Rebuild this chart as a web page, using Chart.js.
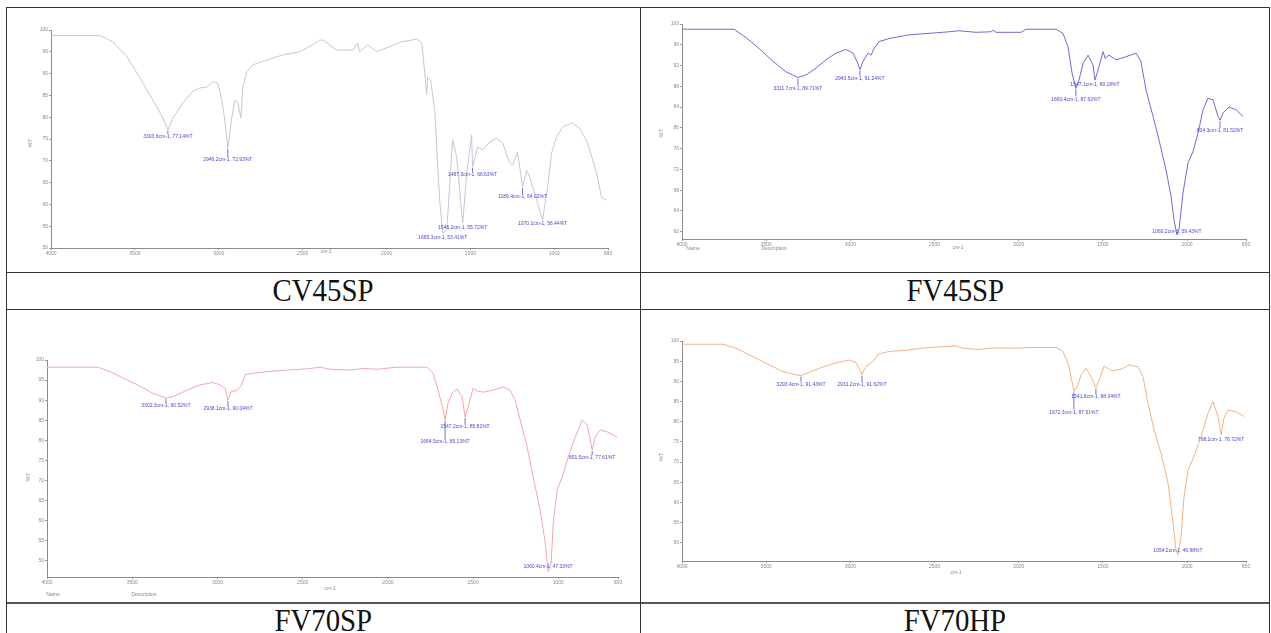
<!DOCTYPE html>
<html>
<head>
<meta charset="utf-8">
<script src="https://cdn.jsdelivr.net/npm/chart.js@4.4.1/dist/chart.umd.min.js"></script>
<style>
  body { margin: 0; background: #fff; width: 1271px; height: 633px; overflow: hidden; position: relative; font-family: "Liberation Sans", Arial, sans-serif; }
  .ln { position: absolute; background: #333; }
  canvas { position: absolute; }
  .cap { position: absolute; height: 37px; line-height: 37px; text-align: center; font-family: "Liberation Serif", "Times New Roman", serif; font-size: 32px; color: #111; }
  .cap span { display: inline-block; transform: scaleX(0.9); }
  .tiny { position: absolute; font-size: 5px; color: #888; white-space: nowrap; transform: translate(-50%, -50%); }
  .rot { transform: translate(-50%, -50%) rotate(-90deg); font-size: 6px; }
</style>
</head>
<body>
<!-- table frame -->
<div class="ln" style="left:6px;top:7px;width:1264px;height:1px"></div>
<div class="ln" style="left:6px;top:272px;width:1264px;height:1px"></div>
<div class="ln" style="left:6px;top:309px;width:1264px;height:1px"></div>
<div class="ln" style="left:6px;top:602px;width:1264px;height:2px;background:#555"></div>
<div class="ln" style="left:6px;top:7px;width:1px;height:626px"></div>
<div class="ln" style="left:640px;top:7px;width:1px;height:626px"></div>
<div class="ln" style="left:1269px;top:7px;width:1px;height:626px"></div>

<canvas id="cv45sp"></canvas>
<canvas id="fv45sp"></canvas>
<canvas id="fv70sp"></canvas>
<canvas id="fv70hp"></canvas>

<div class="cap" style="left:7px;top:272px;width:633px"><span>CV45SP</span></div>
<div class="cap" style="left:641px;top:272px;width:628px"><span>FV45SP</span></div>
<div class="cap" style="left:7px;top:602px;width:633px"><span>FV70SP</span></div>
<div class="cap" style="left:641px;top:602px;width:628px"><span>FV70HP</span></div>

<!-- axis titles and footer text -->
<div class="tiny rot" style="left:30px;top:143px">%T</div>
<div class="tiny rot" style="left:661px;top:133px">%T</div>
<div class="tiny rot" style="left:28px;top:477px">%T</div>
<div class="tiny rot" style="left:661px;top:457px">%T</div>
<div class="tiny" style="left:326px;top:251px">cm-1</div>
<div class="tiny" style="left:958px;top:247px">cm-1</div>
<div class="tiny" style="left:330px;top:588px">cm-1</div>
<div class="tiny" style="left:956px;top:572px">cm-1</div>
<div class="tiny" style="left:693px;top:248px">Name</div>
<div class="tiny" style="left:774px;top:248px">Description</div>
<div class="tiny" style="left:53px;top:594px">Name</div>
<div class="tiny" style="left:144px;top:594px">Description</div>

<script>
// ---- CV45SP ----
const cv45spWave = [4000, 3708, 3631, 3547, 3470, 3392, 3333, 3303, 3273, 3214, 3154, 3113, 3071, 3035, 3005, 2982, 2964, 2946, 2922, 2904, 2886, 2868, 2856, 2833, 2797, 2714, 2618, 2517, 2440, 2398, 2380, 2297, 2201, 2172, 2160, 2112, 2058, 1999, 1921, 1820, 1790, 1772, 1761, 1755, 1737, 1713, 1695, 1683, 1665, 1641, 1606, 1582, 1546, 1522, 1493, 1487, 1457, 1427, 1385, 1344, 1308, 1266, 1248, 1219, 1189, 1165, 1147, 1105, 1070, 1040, 1016, 986, 951, 897, 849, 802, 748, 718, 689];
const cv45spT = [98.7, 98.7, 97.3, 93.9, 89.0, 83.9, 79.8, 77.1, 79.8, 83.3, 86.0, 86.7, 86.9, 88.1, 87.8, 83.9, 79.4, 72.9, 80.0, 83.9, 83.3, 79.8, 86.9, 90.4, 92.0, 93.1, 94.3, 95.0, 96.6, 97.7, 97.7, 95.4, 95.4, 97.0, 95.0, 96.6, 95.0, 95.9, 97.2, 97.9, 97.0, 90.1, 85.1, 89.2, 88.5, 81.6, 68.6, 61.0, 53.4, 54.1, 74.8, 70.9, 55.7, 67.2, 75.9, 68.6, 73.2, 72.5, 74.3, 75.2, 74.1, 69.5, 69.0, 72.0, 64.0, 67.9, 66.3, 61.0, 56.4, 64.0, 71.8, 75.5, 77.7, 78.7, 77.5, 74.1, 67.2, 61.5, 61.0];
const cv45spPeakWave = [3303.6, 2946.2, 1665.3, 1546.2, 1487.3, 1189.4, 1070.1];
const cv45spPeakT = [77.14, 72.93, 53.41, 55.72, 68.63, 64.02, 56.44];

// ---- FV45SP ----
const fv45spWave = [4000, 3691, 3620, 3543, 3459, 3382, 3311, 3263, 3204, 3145, 3085, 3026, 2984, 2955, 2943, 2925, 2895, 2877, 2859, 2830, 2770, 2652, 2533, 2414, 2355, 2254, 2165, 2153, 2135, 1986, 1957, 1778, 1737, 1707, 1683, 1660, 1642, 1618, 1588, 1559, 1547, 1523, 1499, 1487, 1464, 1422, 1363, 1303, 1274, 1244, 1202, 1167, 1125, 1095, 1078, 1060, 1048, 1024, 994, 965, 935, 905, 876, 846, 816, 804, 786, 751, 709, 668];
const fv45spT = [99.0, 99.0, 97.4, 95.3, 92.8, 90.8, 89.7, 90.2, 91.5, 93.1, 94.4, 95.1, 94.4, 92.4, 91.2, 92.8, 94.4, 94.0, 95.3, 96.6, 97.2, 97.9, 98.2, 98.5, 98.7, 98.4, 98.5, 98.8, 98.4, 98.4, 99.0, 99.0, 98.2, 95.6, 90.5, 87.6, 89.2, 92.4, 94.0, 92.1, 89.2, 91.8, 94.7, 93.4, 94.0, 93.1, 93.7, 94.4, 92.8, 87.3, 82.2, 77.7, 71.9, 66.8, 62.3, 59.4, 60.4, 67.5, 73.3, 75.4, 79.0, 83.5, 85.7, 85.4, 82.2, 81.5, 82.9, 84.0, 83.5, 82.2];
const fv45spPeakWave = [3311.7, 2943.5, 1660.4, 1547.1, 1060.2, 804.3];
const fv45spPeakT = [89.71, 91.24, 87.62, 89.18, 59.43, 81.52];

// ---- FV70SP ----
const fv70spWave = [4000, 3701, 3630, 3530, 3454, 3378, 3302, 3261, 3178, 3102, 3026, 2985, 2955, 2938, 2920, 2885, 2861, 2838, 2791, 2709, 2591, 2474, 2398, 2339, 2222, 2145, 2063, 1946, 1770, 1735, 1705, 1676, 1664, 1647, 1623, 1594, 1564, 1547, 1529, 1500, 1476, 1441, 1382, 1324, 1283, 1253, 1224, 1183, 1148, 1107, 1077, 1060, 1042, 1030, 1007, 977, 942, 901, 860, 831, 801, 784, 754, 713, 655];
const fv70spT = [98.2, 98.2, 97.1, 95.0, 93.5, 91.7, 90.5, 90.9, 92.5, 93.8, 94.4, 93.8, 93.0, 90.0, 92.1, 92.5, 93.5, 96.3, 96.7, 97.1, 97.5, 97.8, 98.2, 97.7, 97.5, 97.9, 97.7, 98.2, 98.2, 96.7, 92.5, 87.6, 85.1, 89.3, 91.8, 92.8, 90.8, 85.8, 88.3, 93.0, 92.3, 92.0, 92.5, 93.3, 92.5, 90.0, 85.1, 78.4, 70.9, 62.7, 54.5, 47.3, 49.5, 59.4, 67.7, 70.9, 75.9, 80.8, 85.1, 83.8, 77.6, 80.8, 82.6, 82.1, 80.8];
const fv70spPeakWave = [3302.3, 2938.1, 1664.5, 1547.2, 1060.4, 801.5];
const fv70spPeakT = [90.52, 90.04, 85.13, 85.81, 47.33, 77.61];

// ---- FV70HP ----
const fv70hpWave = [4000, 3756, 3679, 3578, 3483, 3400, 3341, 3293, 3246, 3162, 3085, 3008, 2966, 2943, 2931, 2919, 2895, 2877, 2860, 2830, 2770, 2652, 2533, 2372, 2331, 2236, 2153, 2034, 1915, 1778, 1737, 1707, 1683, 1672, 1648, 1630, 1600, 1571, 1541, 1523, 1493, 1470, 1440, 1392, 1345, 1291, 1262, 1232, 1196, 1155, 1113, 1083, 1066, 1054, 1036, 1018, 994, 959, 917, 876, 846, 816, 798, 781, 757, 709, 662];
const fv70hpT = [99.2, 99.2, 98.2, 96.1, 94.1, 92.4, 91.8, 91.4, 92.2, 93.6, 94.6, 95.3, 94.6, 92.8, 91.6, 92.8, 94.1, 94.5, 95.3, 96.8, 97.4, 97.8, 98.4, 98.8, 98.2, 97.9, 98.3, 98.2, 98.4, 98.4, 97.4, 94.5, 89.9, 87.5, 89.1, 91.6, 93.2, 91.2, 88.3, 90.3, 93.8, 93.2, 92.6, 93.0, 94.1, 93.6, 91.2, 84.6, 78.0, 72.2, 64.8, 54.9, 48.3, 47.0, 51.6, 61.5, 68.1, 71.4, 76.3, 82.1, 85.0, 81.3, 76.7, 80.9, 82.9, 82.5, 81.3];
const fv70hpPeakWave = [3293.4, 2931.2, 1672.3, 1541.6, 1054.2, 798.1];
const fv70hpPeakT = [91.43, 91.62, 87.51, 88.34, 46.98, 76.72];

// tick labels
const xTicksCv = [4000, 3500, 3000, 2500, 2000, 1500, 1000, 680];
const xTicksFv = [4000, 3500, 3000, 2500, 2000, 1500, 1000, 650];
const yTicksFv45 = [60, 64, 68, 72, 76, 80, 84, 88, 92, 96, 100];
const yTicks5 = [50, 55, 60, 65, 70, 75, 80, 85, 90, 95, 100];

// peak markers: line from the curve down to the label
const peakPlugin = {
    id: 'peaks',
    afterDatasetsDraw(chart, args, opts) {
        const ctx = chart.ctx;
        const x = chart.scales.x, y = chart.scales.y;
        ctx.save();
        ctx.font = '5px "Liberation Sans", Arial, sans-serif';
        ctx.fillStyle = '#4848d0';
        ctx.strokeStyle = '#4848d0';
        ctx.lineWidth = 0.8;
        ctx.textAlign = 'center';
        ctx.textBaseline = 'middle';
        opts.waves.forEach((w, i) => {
            const t = opts.ts[i];
            const px = x.getPixelForValue(w);
            const py = y.getPixelForValue(t);
            const ly = py + opts.offsets[i];
            if (opts.offsets[i] > 5) {
                ctx.beginPath();
                ctx.moveTo(px, py + 1);
                ctx.lineTo(px, ly - 3);
                ctx.stroke();
            }
            ctx.fillText(w.toFixed(1) + 'cm-1, ' + t.toFixed(2) + '%T', px, ly);
        });
        ctx.restore();
    }
};

function makePanel(id, cell, area, cfg) {
    const cv = document.getElementById(id);
    cv.width = cell.w; cv.height = cell.h;
    cv.style.left = cell.x + 'px'; cv.style.top = cell.y + 'px';
    cv.style.width = cell.w + 'px'; cv.style.height = cell.h + 'px';
    const yW = 14, xH = 10;
    const points = cfg.wave.map((w, i) => ({ x: w, y: cfg.t[i] }));
    const tickFont = { size: 5, family: '"Liberation Sans", Arial, sans-serif' };
    new Chart(cv.getContext('2d'), {
        type: 'line',
        data: { datasets: [{ data: points, borderColor: cfg.color, borderWidth: 1, pointRadius: 0, tension: 0, fill: false }] },
        options: {
            responsive: false,
            animation: false,
            events: [],
            layout: {
                padding: {
                    left: area.l - cell.x - yW,
                    top: area.t - cell.y,
                    right: cell.x + cell.w - area.r,
                    bottom: cell.y + cell.h - area.b - xH
                }
            },
            plugins: {
                legend: { display: false },
                tooltip: { enabled: false },
                peaks: { waves: cfg.peakWave, ts: cfg.peakT, offsets: cfg.offsets }
            },
            scales: {
                x: {
                    type: 'linear', reverse: true, min: cfg.xTicks[cfg.xTicks.length - 1], max: 4000,
                    afterBuildTicks: s => { s.ticks = cfg.xTicks.map(v => ({ value: v })); },
                    afterFit: s => { s.height = xH; },
                    ticks: { font: tickFont, color: '#8a8a8a', padding: 1, autoSkip: false, maxRotation: 0, callback: v => String(v) },
                    grid: { drawOnChartArea: false, tickLength: 2, color: '#999' },
                    border: { color: '#8c8c8c', width: 1 }
                },
                y: {
                    min: cfg.yMin, max: 100,
                    afterBuildTicks: s => { s.ticks = cfg.yTicks.map(v => ({ value: v })); },
                    afterFit: s => { s.width = yW; },
                    ticks: { font: tickFont, color: '#8a8a8a', padding: 1, callback: v => String(v) },
                    grid: { drawOnChartArea: false, tickLength: 2, color: '#999' },
                    border: { color: '#8c8c8c', width: 1 }
                }
            }
        },
        plugins: [peakPlugin]
    });
}

makePanel('cv45sp', { x: 7, y: 8, w: 633, h: 264 }, { l: 51, t: 30, r: 608, b: 248 }, {
    wave: cv45spWave, t: cv45spT, color: '#c6c6d8',
    peakWave: cv45spPeakWave, peakT: cv45spPeakT, offsets: [7, 12, 4, 5, 8, 10, 4],
    xTicks: xTicksCv, yTicks: yTicks5, yMin: 50
});
makePanel('fv45sp', { x: 641, y: 8, w: 628, h: 264 }, { l: 682, t: 24, r: 1246, b: 239 }, {
    wave: fv45spWave, t: fv45spT, color: '#6c6cd4',
    peakWave: fv45spPeakWave, peakT: fv45spPeakT, offsets: [11, 9, 11, 4, -3, 11],
    xTicks: xTicksFv, yTicks: yTicksFv45, yMin: 58.6
});
makePanel('fv70sp', { x: 7, y: 310, w: 633, h: 292 }, { l: 47, t: 360, r: 618, b: 577 }, {
    wave: fv70spWave, t: fv70spT, color: '#f2a8a8',
    peakWave: fv70spPeakWave, peakT: fv70spPeakT, offsets: [8, 9, 22, 10, -5, 8],
    xTicks: xTicksFv, yTicks: yTicks5, yMin: 46
});
makePanel('fv70hp', { x: 641, y: 310, w: 628, h: 292 }, { l: 682, t: 341, r: 1246, b: 561 }, {
    wave: fv70hpWave, t: fv70hpT, color: '#f2b284',
    peakWave: fv70hpPeakWave, peakT: fv70hpPeakT, offsets: [9, 10, 21, 9, -4, 5],
    xTicks: xTicksFv, yTicks: yTicks5, yMin: 45.5
});
</script>
</body>
</html>
